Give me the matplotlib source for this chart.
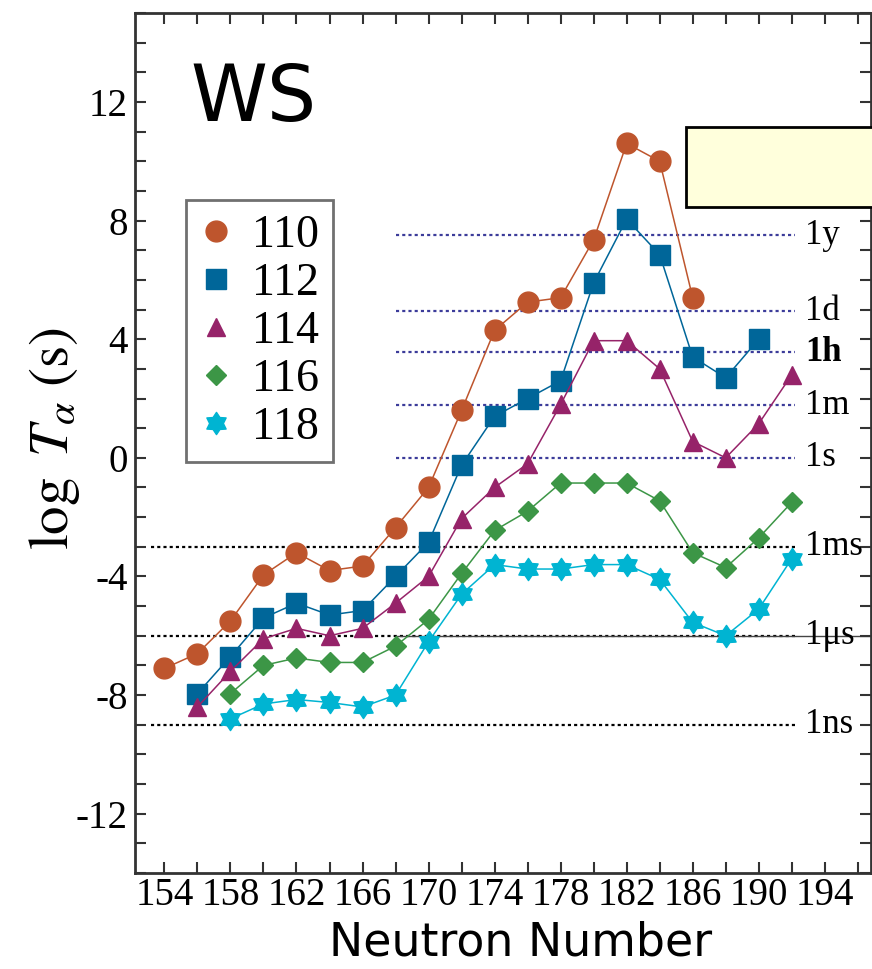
import matplotlib
matplotlib.use("Agg")
import matplotlib.pyplot as plt
from matplotlib.lines import Line2D
from matplotlib.patches import Rectangle
from matplotlib.path import Path
from matplotlib.ticker import MultipleLocator

# alpha-decay half-lives, WS model
n110 = [154, 156, 158, 160, 162, 164, 166, 168, 170, 172, 174, 176, 178, 180, 182, 184, 186]
t110 = [-7.1, -6.6, -5.5, -3.95, -3.2, -3.8, -3.65, -2.35, -1.0, 1.6, 4.3, 5.25, 5.4, 7.35, 10.6, 10.0, 5.4]

n112 = [156, 158, 160, 162, 164, 166, 168, 170, 172, 174, 176, 178, 180, 182, 184, 186, 188, 190]
t112 = [-7.95, -6.7, -5.4, -4.9, -5.3, -5.15, -4.0, -2.85, -0.25, 1.4, 2.0, 2.6, 5.9, 8.05, 6.85, 3.4, 2.7, 4.0]

n114 = [156, 158, 160, 162, 164, 166, 168, 170, 172, 174, 176, 178, 180, 182, 184, 186, 188, 190, 192]
t114 = [-8.4, -7.2, -6.1, -5.75, -6.0, -5.75, -4.9, -4.0, -2.05, -1.0, -0.2, 1.8, 3.95, 3.95, 3.0, 0.55, 0.0, 1.15, 2.8]

n116 = [158, 160, 162, 164, 166, 168, 170, 172, 174, 176, 178, 180, 182, 184, 186, 188, 190, 192]
t116 = [-7.95, -7.0, -6.75, -6.9, -6.9, -6.35, -5.45, -3.9, -2.45, -1.8, -0.85, -0.85, -0.85, -1.45, -3.2, -3.7, -2.7, -1.5]

n118 = [158, 160, 162, 164, 166, 168, 170, 172, 174, 176, 178, 180, 182, 184, 186, 188, 190, 192]
t118 = [-8.8, -8.3, -8.15, -8.25, -8.4, -8.0, -6.2, -4.6, -3.6, -3.75, -3.75, -3.6, -3.6, -4.1, -5.55, -6.0, -5.1, -3.4]

# reference times (log10 of seconds)
time_labels = ["1y", "1d", "1h", "1m", "1s", "1ms", "1\u03bcs", "1ns"]
time_values = [7.5, 4.94, 3.56, 1.78, 0.0, -3.0, -6.0, -9.0]

serif = ["Liberation Serif", "DejaVu Serif"]
plt.rcParams["mathtext.fontset"] = "stix"
plt.rcParams["axes.unicode_minus"] = False

hexagram = Path.unit_regular_star(6, innerCircle=0.62)

fig = plt.figure(figsize=(8.72, 9.69), dpi=100)
ax = fig.add_axes([134.7 / 872, 1 - 873 / 969, 736.3 / 872, 860 / 969])

series = [
    (n110, t110, "110", "o", 15, "#be552d"),
    (n112, t112, "112", "s", 14.5, "#006699"),
    (n114, t114, "114", "^", 13.5, "#962369"),
    (n116, t116, "116", "D", 10.5, "#3c9646"),
    (n118, t118, "118", hexagram, 16, "#00b4d2"),
]
handles = []
for n, t, lab, mk, ms, c in series:
    ax.plot(n, t, "-", color=c, lw=1.1, marker=mk, ms=ms, mec=c, mfc=c, zorder=3)
    handles.append(Line2D([], [], ls="none", marker=mk, ms=ms, color=c, label=lab))

# reference lines
for lab, v in zip(time_labels, time_values):
    if v >= 0:
        ax.plot([168, 192.2], [v, v], color="#3c3c9a", lw=1.6, ls=(0, (1.4, 1.4)), zorder=1)
    else:
        ax.plot([153.2, 192.2], [v, v], color="black", lw=1.6, ls=(0, (1.4, 1.4)), zorder=1)
    ax.text(192.8, v, lab, fontsize=25, family=serif, va="center", ha="left",
            fontweight="bold" if lab == "1h" else "normal")
ax.plot([168, 196.8], [-6, -6], color="#444444", lw=1.0, zorder=1)

# empty yellow box
ax.add_patch(Rectangle((185.6, 8.45), 20, 2.7, facecolor="#ffffdc", edgecolor="black",
                       lw=2, clip_on=False, zorder=10))

ax.text(155.6, 12.1, "WS", fontsize=56, family="DejaVu Sans", va="center", ha="left")

ax.set_xlim(152.2, 196.8)
ax.set_ylim(-14, 15)
ax.xaxis.set_minor_locator(MultipleLocator(2))
ax.yaxis.set_minor_locator(MultipleLocator(1))
ax.set_xticks(range(154, 195, 4))
ax.set_yticks(range(-12, 13, 4))
ax.tick_params(which="both", direction="in", top=True, right=True, length=8, width=1.5,
               color="#333333")
ax.tick_params(axis="y", pad=5)
ax.tick_params(axis="x", pad=3)
for lbl in ax.get_xticklabels() + ax.get_yticklabels():
    lbl.set_family(serif)
    lbl.set_fontsize(28)
for sp in ax.spines.values():
    sp.set_linewidth(2)
    sp.set_color("#333333")

ax.set_xlabel("Neutron Number", fontsize=33, family="DejaVu Sans")
ax.xaxis.set_label_coords((521 - 134.7) / 736.3, -0.055)
ax.set_ylabel(r"$\log\ T_{\alpha}\ (\mathrm{s})$", fontsize=41)
ax.yaxis.set_label_coords(-0.072, 0.505)

leg = ax.legend(handles=handles, loc="upper left", bbox_to_anchor=(0.0695, 0.782),
                borderaxespad=0, prop={"family": serif, "size": 33}, handlelength=0.7,
                handletextpad=0.45, labelspacing=0.12, fancybox=False, framealpha=1,
                edgecolor="#707070", borderpad=0.3)
leg.get_frame().set_linewidth(2)

fig.savefig("out.png", dpi=100)
